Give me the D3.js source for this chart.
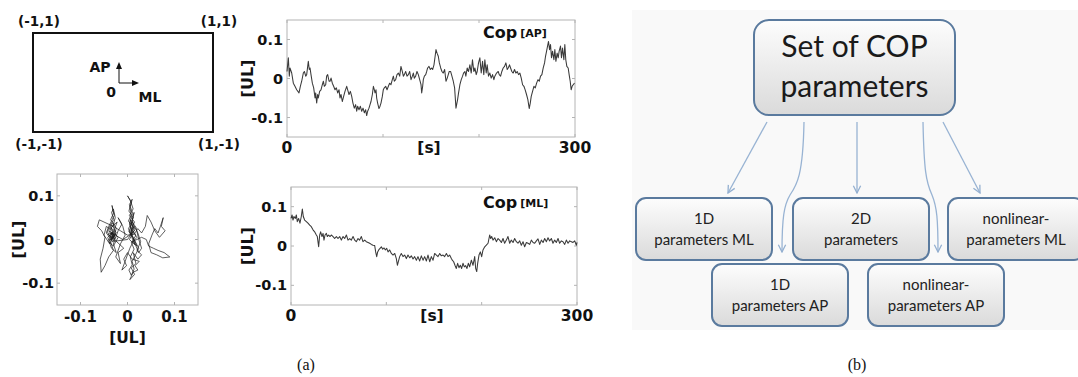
<!DOCTYPE html>
<html>
<head>
<meta charset="utf-8">
<script src="https://cdn.jsdelivr.net/npm/d3@7"></script>
<style>
  body { margin: 0; background: #fff; }
  svg { display: block; }
</style>
</head>
<body>
<svg id="fig" width="1078" height="377"></svg>
<script>
// ---- Centre-of-pressure recordings: [time s, displacement UL] ----
const copAP = [
[0,0.018],[1.4,0.053],[2.4,0.006],[3.1,0.027],[4.9,0.014],[6.6,-0.012],[8.3,-0.020],[10.1,-0.029],[12.5,-0.037],[13.9,-0.020],[15.3,-0.007],[17.0,0.014],[18.1,0.018],[19.5,0.006],[20.5,0.010],[22.2,0.044],[23.2,0.023],[24.0,0.027],[25.0,0.010],[26.4,-0.012],[27.8,-0.024],[29.2,-0.050],[29.9,-0.037],[30.9,-0.063],[31.9,-0.041],[32.6,-0.050],[34.0,-0.033],[35.4,-0.029],[36.8,-0.016],[37.9,-0.007],[38.9,-0.020],[40.3,-0.016],[41.3,0.006],[42.4,0.010],[43.8,-0.007],[44.8,-0.007],[45.9,0.001],[47.2,-0.012],[48.6,-0.020],[50.0,-0.029],[51.4,-0.024],[52.8,-0.037],[54.2,-0.029],[55.2,-0.050],[56.3,-0.041],[57.6,-0.059],[59.0,-0.046],[60.4,-0.033],[62.2,-0.020],[63.2,-0.029],[64.6,-0.041],[66.0,-0.033],[67.4,-0.046],[68.7,-0.063],[70.1,-0.076],[71.5,-0.067],[72.6,-0.084],[73.6,-0.071],[75.0,-0.080],[76.4,-0.071],[77.8,-0.084],[79.2,-0.076],[80.6,-0.088],[81.9,-0.080],[83.0,-0.095],[84.0,-0.084],[85.4,-0.076],[86.5,-0.067],[87.5,-0.059],[88.9,-0.041],[90.0,-0.020],[91.0,-0.029],[91.7,-0.037],[92.7,-0.029],[93.4,-0.050],[94.4,-0.063],[95.8,-0.077],[96.9,-0.071],[97.9,-0.063],[99.3,-0.046],[100.3,-0.029],[101.4,-0.024],[102.8,-0.020],[104.2,-0.029],[105.6,-0.020],[106.9,-0.012],[108.3,-0.016],[109.7,-0.003],[110.8,0.006],[111.8,-0.007],[113.2,-0.003],[114.6,0.010],[116.0,0.014],[117.4,0.006],[118.7,0.031],[120.1,0.018],[121.2,0.006],[122.2,0.010],[123.6,0.018],[125.0,0.006],[126.4,0.010],[127.8,0.018],[129.2,-0.003],[130.6,0.006],[131.6,0.014],[132.6,0.001],[134.0,0.006],[135.4,0.018],[136.8,0.010],[138.2,-0.003],[139.6,-0.016],[140.3,-0.037],[141.3,-0.020],[142.0,-0.003],[143.1,0.006],[144.5,0.010],[145.5,0.018],[146.5,0.027],[147.9,0.031],[149.3,0.023],[150.7,0.027],
[151.7,0.023],[153.1,0.035],[154.5,0.061],[155.2,0.074],[156.3,0.065],[157.6,0.057],[158.7,0.040],[160.1,0.027],[161.4,0.018],[162.8,0.014],[164.2,0.023],[165.6,-0.007],[166.9,0.001],[168.0,0.010],[169.0,0.018],[170.4,0.018],[171.8,0.006],[173.2,-0.007],[174.6,-0.024],[175.3,-0.050],[176.0,-0.076],[176.7,-0.067],[177.7,-0.054],[178.7,-0.037],[180.1,-0.016],[181.5,-0.003],[182.9,0.006],[183.9,0.014],[185.3,0.018],[186.3,0.006],[187.7,0.027],[189.1,0.018],[190.5,0.035],[191.9,0.014],[193.2,0.048],[194.6,0.018],[195.7,0.027],[197.1,0.010],[198.1,0.018],[199.5,0.040],[200.9,0.053],[202.3,0.014],[203.7,0.044],[205.0,0.010],[206.1,0.048],[207.5,0.014],[208.5,0.035],[209.9,0.006],[211.3,0.014],[212.7,0.001],[214.1,0.010],[215.5,-0.003],[216.5,0.006],[218.3,0.014],[220.0,0.018],[221.1,0.010],[222.5,0.006],[223.8,0.018],[225.2,0.027],[226.6,0.031],[228.0,0.040],[229.4,0.023],[230.4,0.027],[231.8,0.035],[232.9,0.027],[234.2,0.018],[235.6,0.014],[237.0,0.023],[238.4,0.014],[239.8,0.018],[241.2,0.010],[242.6,0.014],[244.0,0.001],[245.4,-0.016],[246.8,-0.020],[248.1,-0.029],[249.5,-0.041],[250.9,-0.054],[252.3,-0.077],[253.4,-0.063],[254.4,-0.046],[255.8,-0.033],[257.2,-0.020],[258.6,-0.024],[260.0,-0.012],[261.4,-0.003],[262.8,-0.007],[264.1,0.006],[265.5,0.010],[266.9,0.027],[268.3,0.040],[269.3,0.057],[270.4,0.070],[271.4,0.083],[272.4,0.095],[273.5,0.074],[274.5,0.087],[275.5,0.053],[276.6,0.070],[278.0,0.048],[279.0,0.074],[280.1,0.044],[281.4,0.065],[282.5,0.053],[283.5,0.070],[284.9,0.083],[285.9,0.053],[287.0,0.078],[288.4,0.048],[289.4,0.087],[290.4,0.048],[291.5,0.031],[292.9,0.027],[293.9,0.010],[295.0,-0.007],[296.0,-0.029],[297.0,-0.020],[298.1,-0.016],[299.5,-0.012]
];

const copML = [
[0.0,0.070],[1.1,0.079],[2.1,0.066],[3.1,0.075],[4.5,0.070],[5.6,0.079],[6.6,0.062],[8.0,0.070],[9.4,0.058],[10.8,0.075],[11.9,0.094],[12.9,0.075],[14.3,0.066],[16.1,0.062],[17.8,0.058],[19.6,0.053],[21.3,0.049],[23.1,0.041],[24.8,0.036],[26.6,0.028],[27.6,0.024],[29.0,-0.002],[30.1,0.028],[31.1,0.036],[32.5,0.024],[33.6,0.032],[34.6,0.015],[35.7,0.028],[37.1,0.032],[38.1,0.024],[39.5,0.028],[40.9,0.024],[42.3,0.028],[44.1,0.024],[45.8,0.019],[47.6,0.024],[49.3,0.019],[51.1,0.024],[52.8,0.015],[54.6,0.024],[56.3,0.019],[58.1,0.028],[59.8,0.015],[61.6,0.019],[63.3,0.015],[65.1,0.024],[66.8,0.015],[68.5,0.011],[70.3,0.019],[72.0,0.015],[73.8,0.024],[75.5,0.011],[77.3,0.015],[79.0,0.011],[80.8,0.009],[82.5,0.007],[84.3,0.004],[86.0,0.002],[87.8,0.001],[88.8,-0.015],[89.9,-0.027],[90.9,-0.015],[92.0,-0.010],[93.4,-0.006],[94.8,-0.002],[96.2,-0.008],[97.6,-0.005],[99.0,-0.010],[100.4,-0.006],[101.8,-0.015],[103.5,-0.010],[105.3,-0.019],[107.0,-0.023],[108.8,-0.019],[110.5,-0.032],[111.6,-0.049],[112.6,-0.040],[114.0,-0.027],[115.7,-0.019],[117.5,-0.027],[119.2,-0.023],[121.0,-0.032],[122.7,-0.023],[124.5,-0.030],[126.2,-0.025],[128.0,-0.033],[129.7,-0.027],[131.5,-0.036],[133.2,-0.027],[135.0,-0.038],[136.7,-0.025],[138.5,-0.036],[140.2,-0.027],[142.0,-0.038],[143.7,-0.023],[145.5,-0.040],[147.2,-0.027],[149.0,-0.036],
[150.7,-0.019],[152.5,-0.023],[154.2,-0.027],[156.0,-0.019],[157.7,-0.025],[159.5,-0.023],[161.2,-0.027],[163.0,-0.019],[164.7,-0.027],[166.4,-0.023],[168.2,-0.032],[169.2,-0.036],[170.6,-0.040],[172.0,-0.049],[173.4,-0.057],[174.8,-0.044],[176.2,-0.055],[177.6,-0.049],[179.0,-0.057],[180.4,-0.044],[181.8,-0.053],[183.2,-0.050],[184.6,-0.057],[186.0,-0.044],[187.4,-0.053],[189.2,-0.036],[190.9,-0.049],[192.7,-0.027],[193.7,-0.057],[194.8,-0.065],[195.8,-0.044],[197.2,-0.023],[198.6,-0.015],[200.0,-0.027],[201.4,-0.010],[203.2,-0.002],[204.9,0.002],[206.7,0.007],[208.4,0.028],[209.5,0.019],[210.5,0.024],[211.9,0.015],[213.7,0.021],[215.4,0.011],[217.2,0.019],[218.9,0.015],[220.7,0.009],[222.4,0.019],[224.1,0.007],[225.9,0.015],[227.6,0.024],[229.4,0.007],[231.1,0.015],[232.9,0.009],[234.6,0.019],[236.4,0.011],[238.1,0.007],[239.9,0.013],[241.6,0.002],[243.4,0.011],[245.1,-0.002],[246.9,0.009],[248.6,0.007],[250.4,0.004],[252.1,0.015],[253.9,0.009],[255.6,0.007],[257.4,0.013],[259.1,0.018],[260.9,0.004],[262.6,0.015],[264.4,0.009],[266.1,0.019],[267.9,0.011],[269.6,0.021],[271.3,0.013],[273.1,0.019],[274.8,0.007],[276.6,0.015],[278.3,0.009],[280.1,0.019],[281.8,0.007],[283.6,0.013],[285.3,0.011],[287.1,0.004],[288.8,0.015],[290.6,0.007],[292.3,0.013],[294.1,0.011],[295.8,0.009],[297.6,0.013],[299.3,0.002],[300,0.009]
];

// Stabilogram path: [ML, AP] in UL
const stabilogram = [
[-0.030,0.010],[-0.038,0.022],[-0.028,0.035],[-0.036,0.045],[-0.030,0.060],[-0.033,0.078],[-0.028,0.055],[-0.040,0.030],[-0.045,0.015],[-0.035,0.000],[-0.025,0.012],[-0.040,-0.005],[-0.030,-0.015],[-0.020,0.005],[-0.032,0.020],[-0.045,0.030],[-0.050,0.010],[-0.038,-0.010],[-0.028,0.008],[-0.035,0.028],[-0.022,0.040],[-0.030,0.018],[-0.042,0.005],[-0.034,-0.020],[-0.024,-0.030],[-0.030,-0.010],[-0.020,0.020],[-0.012,0.035],[-0.020,0.050],[-0.010,0.030],[-0.005,0.010],[-0.015,-0.010],[-0.025,-0.040],[-0.015,-0.055],[-0.020,-0.030],[-0.008,-0.020],
[-0.026,-0.002],[-0.036,0.008],[-0.031,0.016],[-0.041,0.012],[-0.033,0.003],[-0.027,0.020],[-0.037,0.027],[-0.032,0.038],[-0.024,0.026],[-0.029,0.004],[-0.039,-0.002],[-0.034,0.014],[-0.026,0.006],[-0.031,-0.006],[-0.043,0.018],[-0.036,0.034],[-0.029,0.046],[-0.034,0.062],[-0.030,0.070],[-0.026,0.050],[-0.031,0.030],[-0.024,0.015],[-0.035,0.006],[-0.028,-0.004],
[0.000,0.000],[0.010,0.015],[0.005,0.035],[0.012,0.050],[0.003,0.065],[0.008,0.085],[0.000,0.100],[0.006,0.090],[0.012,0.070],[0.004,0.055],[0.015,0.040],[0.008,0.025],[0.018,0.010],[0.010,-0.005],[0.020,-0.015],[0.012,0.005],[0.005,0.020],[0.015,0.030],[0.022,0.015],[0.028,-0.005],[0.020,-0.025],[0.030,-0.035],[0.022,-0.045],[0.012,-0.030],[0.018,-0.055],[0.008,-0.065],[0.015,-0.080],[0.005,-0.092],[0.012,-0.075],[0.022,-0.070],[0.016,-0.060],[0.025,-0.050],[0.010,-0.045],[0.000,-0.030],[-0.008,-0.045],[-0.002,-0.060],[-0.012,-0.070],[-0.005,-0.050],[0.005,-0.020],[0.012,-0.005],[0.020,0.005],
[0.009,0.020],[0.004,0.038],[0.011,0.060],[0.006,0.075],[0.010,0.092],[0.004,0.080],[0.008,0.058],[0.002,0.042],[0.013,0.028],[0.007,0.012],[0.016,0.022],[0.010,0.044],[0.014,0.062],[0.009,0.036],[0.003,0.018],[0.012,0.004],[0.018,-0.008],[0.024,-0.020],[0.017,-0.035],[0.010,-0.050],[0.014,-0.068],[0.008,-0.082],[0.003,-0.070],[0.010,-0.058],[0.006,-0.040],[0.014,-0.022],[0.008,-0.006],
[0.030,0.005],[0.040,0.000],[0.045,-0.015],[0.055,-0.020],[0.065,-0.025],[0.078,-0.030],[0.090,-0.040],[0.075,-0.042],[0.062,-0.035],[0.050,-0.030],[0.045,-0.010],[0.052,0.010],[0.058,0.025],[0.065,0.015],[0.070,0.030],[0.076,0.050],[0.072,0.030],[0.080,0.020],[0.068,0.005],[0.058,0.020],[0.050,0.040],[0.042,0.055],[0.038,0.030],[0.030,0.015],[0.022,0.025],[0.014,0.012],
[0.000,0.010],[-0.015,0.020],[-0.030,0.030],[-0.050,0.040],[-0.060,0.045],[-0.064,0.030],[-0.055,0.020],[-0.048,0.005],[-0.052,-0.020],[-0.058,-0.045],[-0.056,-0.075],[-0.048,-0.060],[-0.040,-0.040],[-0.030,-0.025],[-0.036,-0.005],[-0.030,0.012],[-0.040,0.020],[-0.028,0.002],[-0.034,0.015],
[-0.010,0.000],[0.005,0.010],[0.012,0.030],[0.006,0.045],[0.014,0.020],[0.004,0.000],[0.016,-0.012],[0.008,0.008],[0.002,0.025],[0.010,0.040],[0.018,0.028],[0.024,0.000],[0.030,-0.020],[0.024,-0.030],[0.016,-0.010],[0.008,0.015]
];

const valueTicks = [-0.1, 0, 0.1];
const timeTicks = [0, 100, 200, 300];
const timeTickLabels = ["0", "", "", "300"];
const cornerPoints = [[-1, 1], [1, 1], [-1, -1], [1, -1]];
const paramGroups = [
  ["1D", "parameters ML"],
  ["2D", "parameters"],
  ["nonlinear-", "parameters ML"],
  ["1D", "parameters AP"],
  ["nonlinear-", "parameters AP"]
];
const rootLabel = ["Set of COP", "parameters"];

// ---- drawing ----
const svg = d3.select("#fig");
const BOLD = "'DejaVu Sans', Verdana, sans-serif";
const fmt = d => d === 0 ? "0" : String(d);
svg.append("rect").attr("width", 1078).attr("height", 377).attr("fill", "#fff");

// Coordinate frame sketch
(function () {
  const sx = d3.scaleLinear([-1, 1], [33, 213]);
  const sy = d3.scaleLinear([-1, 1], [132, 33]);
  const g = svg.append("g");
  g.append("rect").attr("x", sx(-1)).attr("y", sy(1))
    .attr("width", sx(1) - sx(-1)).attr("height", sy(-1) - sy(1))
    .attr("fill", "none").attr("stroke", "#111").attr("stroke-width", 2);
  g.selectAll("text.corner").data(cornerPoints).join("text")
    .attr("x", d => sx(d[0]) + 6).attr("y", d => d[1] > 0 ? sy(d[1]) - 7 : sy(d[1]) + 17)
    .attr("text-anchor", "middle").attr("font-family", BOLD).attr("font-weight", "bold")
    .attr("font-size", 13.5).attr("fill", "#111").text(d => `(${d[0]},${d[1]})`);
  const ox = 119, oy = 83;
  g.append("line").attr("x1", ox).attr("y1", oy).attr("x2", ox).attr("y2", oy - 15)
    .attr("stroke", "#111").attr("stroke-width", 1);
  g.append("path").attr("d", `M${ox - 3},${oy - 14} L${ox},${oy - 21} L${ox + 3},${oy - 14}Z`).attr("fill", "#111");
  g.append("line").attr("x1", ox).attr("y1", oy).attr("x2", ox + 14).attr("y2", oy)
    .attr("stroke", "#111").attr("stroke-width", 1);
  g.append("path").attr("d", `M${ox + 13},${oy - 3} L${ox + 20},${oy} L${ox + 13},${oy + 3}Z`).attr("fill", "#111");
  const lab = (x, y, t) => g.append("text").attr("x", x).attr("y", y).attr("text-anchor", "middle")
    .attr("font-family", BOLD).attr("font-weight", "bold").attr("font-size", 14).attr("fill", "#111").text(t);
  lab(100, 72, "AP");
  lab(111, 97, "0");
  lab(150, 102, "ML");
})();

// Generic framed axes with inward ticks on every side
function frame(g, x, y, xt, yt) {
  const [x0, x1] = x.range(), [y1, y0] = y.range();
  g.append("rect").attr("x", x0).attr("y", y0).attr("width", x1 - x0).attr("height", y1 - y0)
    .attr("fill", "none").attr("stroke", "#b4b4b4").attr("stroke-width", 1);
  xt.forEach(v => {
    g.append("line").attr("x1", x(v)).attr("x2", x(v)).attr("y1", y1).attr("y2", y1 - 3).attr("stroke", "#b4b4b4");
    g.append("line").attr("x1", x(v)).attr("x2", x(v)).attr("y1", y0).attr("y2", y0 + 3).attr("stroke", "#b4b4b4");
  });
  yt.forEach(v => {
    g.append("line").attr("x1", x0).attr("x2", x0 + 3).attr("y1", y(v)).attr("y2", y(v)).attr("stroke", "#b4b4b4");
    g.append("line").attr("x1", x1).attr("x2", x1 - 3).attr("y1", y(v)).attr("y2", y(v)).attr("stroke", "#b4b4b4");
  });
}
function boldText(g, x, y, t, anchor, size) {
  return g.append("text").attr("x", x).attr("y", y).attr("text-anchor", anchor || "middle")
    .attr("font-family", BOLD).attr("font-weight", "bold").attr("font-size", size || 14.5)
    .attr("fill", "#111").text(t);
}
function yLabels(g, x, y, pad) {
  valueTicks.forEach(v => boldText(g, x.range()[0] - pad, y(v) + 5, fmt(v), "end"));
}
function rotatedLabel(g, cx, cy, t) {
  boldText(g, 0, 0, t, "middle", 16).attr("transform", `translate(${cx + 6},${cy}) rotate(-90)`);
}

function timePanel(series, box, name, sub) {
  const g = svg.append("g");
  const x = d3.scaleLinear([0, 300], [box.x0, box.x1]);
  const y = d3.scaleLinear([-0.15, 0.15], [box.y1, box.y0]);
  frame(g, x, y, timeTicks, valueTicks);
  g.append("path").datum(series)
    .attr("d", d3.line().x(d => x(d[0])).y(d => y(d[1])))
    .attr("fill", "none").attr("stroke", "#3a3a3a").attr("stroke-width", 1.05).attr("stroke-linejoin", "round");
  yLabels(g, x, y, 4);
  timeTicks.forEach((v, i) => { if (timeTickLabels[i]) boldText(g, x(v), box.y1 + 16, timeTickLabels[i], "middle", 15.5); });
  boldText(g, x(150) - 2, box.y1 + 16, "[s]", "middle", 15.5);
  rotatedLabel(g, 247, y(0), "[UL]");
  const t = boldText(g, box.tx, box.ty, name, "start", 16);
  t.append("tspan").attr("font-size", 11).attr("dx", 3).attr("dy", -1).text(sub);
}
timePanel(copAP, { x0: 287, x1: 575, y0: 20, y1: 137, tx: 483, ty: 38 }, "Cop", "[AP]");
timePanel(copML, { x0: 291, x1: 577, y0: 187, y1: 305, tx: 483, ty: 208 }, "Cop", "[ML]");

// Stabilogram
(function () {
  const g = svg.append("g");
  const x = d3.scaleLinear([-0.15, 0.15], [57, 198]);
  const y = d3.scaleLinear([-0.15, 0.15], [305, 174]);
  frame(g, x, y, valueTicks, valueTicks);
  g.append("path").datum(stabilogram)
    .attr("d", d3.line().x(d => x(d[0])).y(d => y(d[1])))
    .attr("fill", "none").attr("stroke", "#1a1a1a").attr("stroke-width", 0.7).attr("stroke-linejoin", "round");
  yLabels(g, x, y, 3);
  valueTicks.forEach(v => boldText(g, x(v), 322, fmt(v), "middle", 15));
  boldText(g, x(0), 343, "[UL]", "middle", 15.5);
  rotatedLabel(g, 18, y(0), "[UL]");
})();

// Parameter tree
(function () {
  const g = svg.append("g");
  const defs = svg.append("defs");
  const grad = defs.append("linearGradient").attr("id", "boxFill").attr("x1", 0).attr("y1", 0).attr("x2", 0).attr("y2", 1);
  grad.append("stop").attr("offset", "0%").attr("stop-color", "#fdfdfd");
  grad.append("stop").attr("offset", "100%").attr("stop-color", "#dadada");
  defs.append("marker").attr("id", "vHead").attr("viewBox", "0 0 10 10").attr("refX", 9).attr("refY", 5)
    .attr("markerWidth", 7).attr("markerHeight", 7).attr("orient", "auto")
    .append("path").attr("d", "M1,1 L9,5 L1,9").attr("fill", "none").attr("stroke", "#93afd0").attr("stroke-width", 1.4);

  g.append("rect").attr("x", 632).attr("y", 10).attr("width", 446).attr("height", 320).attr("fill", "#f9f9f9");

  const FONT = "Lato, 'Open Sans', sans-serif";
  const arrows = [
    "M767,122 L728,193",
    "M804,122 C803,175 797,185 790,195 C784,205 782,218 782,252",
    "M857,122 L857,193",
    "M923,122 C924,170 926,182 932,195 C937,207 938,220 938,252",
    "M943,122 L980,193"
  ];
  g.selectAll("path.arrow").data(arrows).join("path").attr("class", "arrow").attr("d", d => d)
    .attr("fill", "none").attr("stroke", "#98b3d3").attr("stroke-width", 1.3).attr("marker-end", "url(#vHead)");

  const boxStyle = s => s.attr("fill", "url(#boxFill)").attr("stroke", "#5a7a9e").attr("stroke-width", 2);
  boxStyle(g.append("rect").attr("x", 754).attr("y", 20).attr("width", 201).attr("height", 95).attr("rx", 15));
  rootLabel.forEach((t, i) => g.append("text").attr("x", 854.5).attr("y", 57 + i * 40)
    .attr("text-anchor", "middle").attr("font-family", FONT).attr("font-size", 30).attr("fill", "#1a1a1a").text(t));

  const slots = [
    { x: 636, y: 198 }, { x: 793, y: 198 }, { x: 948, y: 198 },
    { x: 712, y: 264 }, { x: 868, y: 264 }
  ];
  paramGroups.forEach((lines, i) => {
    const s = slots[i];
    boxStyle(g.append("rect").attr("x", s.x).attr("y", s.y).attr("width", 136).attr("height", 62).attr("rx", 10));
    lines.forEach((t, j) => g.append("text").attr("x", s.x + 68).attr("y", s.y + 26 + j * 21)
      .attr("text-anchor", "middle").attr("font-family", FONT).attr("font-size", 15).attr("fill", "#222").text(t));
  });
})();

// Captions
svg.append("text").attr("x", 306).attr("y", 370).attr("text-anchor", "middle")
  .attr("font-family", "'Liberation Serif', 'Times New Roman', serif").attr("font-size", 16).attr("fill", "#111").text("(a)");
svg.append("text").attr("x", 857).attr("y", 370).attr("text-anchor", "middle")
  .attr("font-family", "'Liberation Serif', 'Times New Roman', serif").attr("font-size", 16).attr("fill", "#111").text("(b)");
</script>
</body>
</html>
